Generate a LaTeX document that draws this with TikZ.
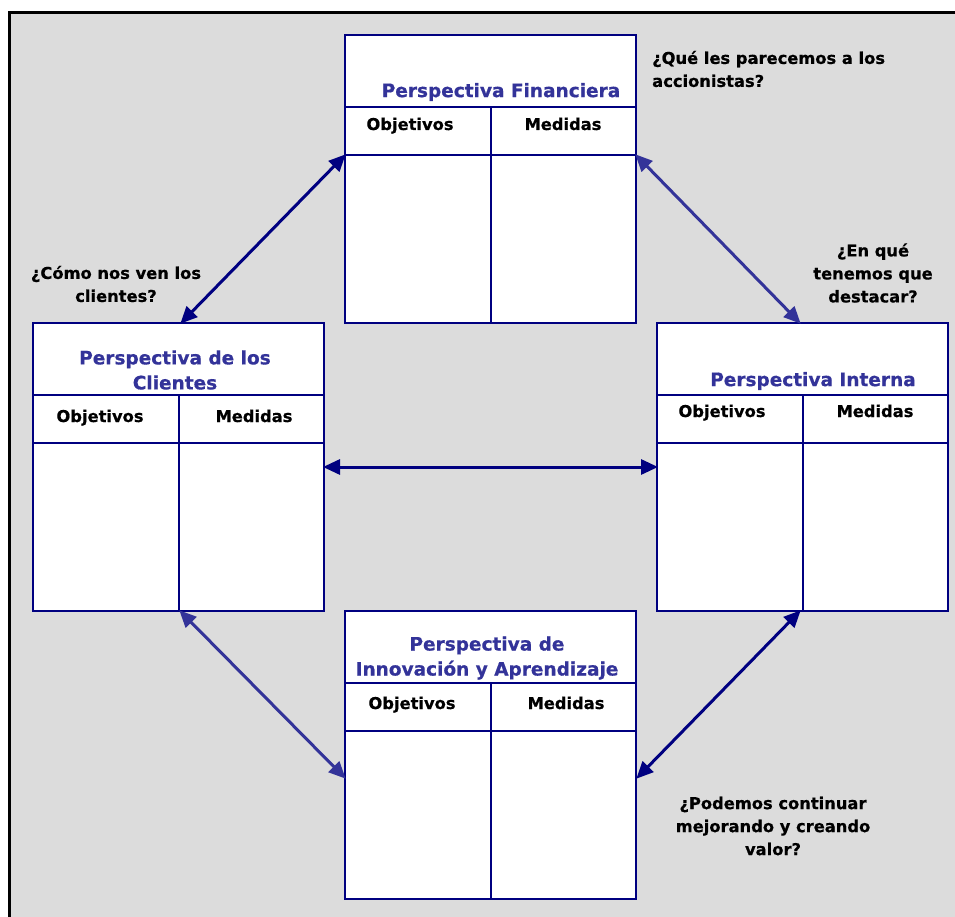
\documentclass[tikz,border=0pt]{standalone}
\usepackage{fontspec}
\setmainfont{DejaVu Sans}[BoldFeatures={FakeBold=0.6}]
\usetikzlibrary{arrows.meta,calc}
\definecolor{navy}{HTML}{000080}
\definecolor{indigo}{HTML}{333399}
\definecolor{bggray}{HTML}{DCDCDC}
\tikzset{
  pbox/.style={rectangle, draw=navy, fill=white, line width=2.2pt, minimum width=291pt, minimum height=288pt, inner sep=0pt, outer sep=0pt, anchor=north west},
  inner/.style={draw=navy, line width=2pt},
  ptitle/.style={text=indigo, font=\fontsize{18.5}{25}\selectfont\bfseries, align=center, inner sep=0pt},
  phead/.style={text=black, font=\fontsize{16.3}{20}\selectfont\bfseries, inner sep=0pt, anchor=base},
  quest/.style={text=black, font=\fontsize{16.3}{23}\selectfont\bfseries, inner sep=0pt},
  tip/.style={Triangle[length=17pt,width=15pt]},
  darr/.style={draw=navy, line width=3pt, {Triangle[length=17pt,width=15pt]}-{Triangle[length=17pt,width=15pt]}, shorten <=-1pt, shorten >=-1pt},
  larr/.style={draw=indigo, line width=3pt, {Triangle[length=17pt,width=15pt]}-{Triangle[length=17pt,width=15pt]}, shorten <=-1pt, shorten >=-1pt}
}
\begin{document}
\begin{tikzpicture}[x=1pt,y=-1pt]
\useasboundingbox (0,0) rectangle (955,917);
\clip (0,0) rectangle (955,917);
\fill[white] (0,0) rectangle (955,917);
\draw[line width=3pt, fill=bggray] (9.5,12.5) rectangle (975,935);

% boxes
\node[pbox] (fin) at (345,35) {};
\node[pbox] (cli) at (33,323) {};
\node[pbox] (int) at (657,323) {};
\node[pbox] (inn) at (345,611) {};

\foreach \b in {fin,cli,int,inn}{
  \draw[inner] ($(\b.north west)+(0,72)$) -- ($(\b.north east)+(0,72)$);
  \draw[inner] ($(\b.north west)+(0,120)$) -- ($(\b.north east)+(0,120)$);
  \draw[inner] ($(\b.north)+(0,72)$) -- (\b.south);
}

% titles
\node[ptitle] (finT) at (501,92) {Perspectiva Financiera};
\node[ptitle] (cliT) at (175,370) {Perspectiva de los\\Clientes};
\node[ptitle] (intT) at (813,381) {Perspectiva Interna};
\node[ptitle] (innT) at (487,658) {Perspectiva de\\Innovación y Aprendizaje};

% headers
\node[phead] (finO) at (410,130) {Objetivos};
\node[phead] (finM) at (563,130) {Medidas};
\node[phead] (cliO) at (100,422) {Objetivos};
\node[phead] (cliM) at (254,422) {Medidas};
\node[phead] (intO) at (722,417) {Objetivos};
\node[phead] (intM) at (875,417) {Medidas};
\node[phead] (innO) at (412,709) {Objetivos};
\node[phead] (innM) at (566,709) {Medidas};

% questions
\node[quest, align=left, anchor=west] (q1) at (652,69) {¿Qué les parecemos a los\\accionistas?};
\node[quest, align=center] (q2) at (116,284) {¿Cómo nos ven los\\clientes?};
\node[quest, align=center] (q3) at (873,273) {¿En qué\\tenemos que\\destacar?};
\node[quest, align=center] (q4) at (773,826) {¿Podemos continuar\\mejorando y creando\\valor?};

% connector end points
\coordinate (finBL) at ($(fin.north west)+(0,120)$);
\coordinate (finBR) at ($(fin.north east)+(0,120)$);
\coordinate (cliTop) at ($(cli.north west)+(148,0)$);
\coordinate (cliBot) at ($(cli.south west)+(147,0)$);
\coordinate (intTop) at ($(int.north west)+(143,0)$);
\coordinate (intBot) at ($(int.south west)+(143,0)$);
\coordinate (cliR) at ($(cli.north east)+(0,144)$);
\coordinate (intL) at ($(int.north west)+(0,144)$);
\coordinate (innL) at ($(inn.north west)+(0,167)$);
\coordinate (innR) at ($(inn.north east)+(1,167)$);

\draw[darr] (cliTop) -- (finBL);
\draw[larr] (finBR) -- (intTop);
\draw[darr] (cliR) -- (intL);
\draw[larr] (cliBot) -- (innL);
\draw[darr] (intBot) -- (innR);
\end{tikzpicture}
\end{document}
